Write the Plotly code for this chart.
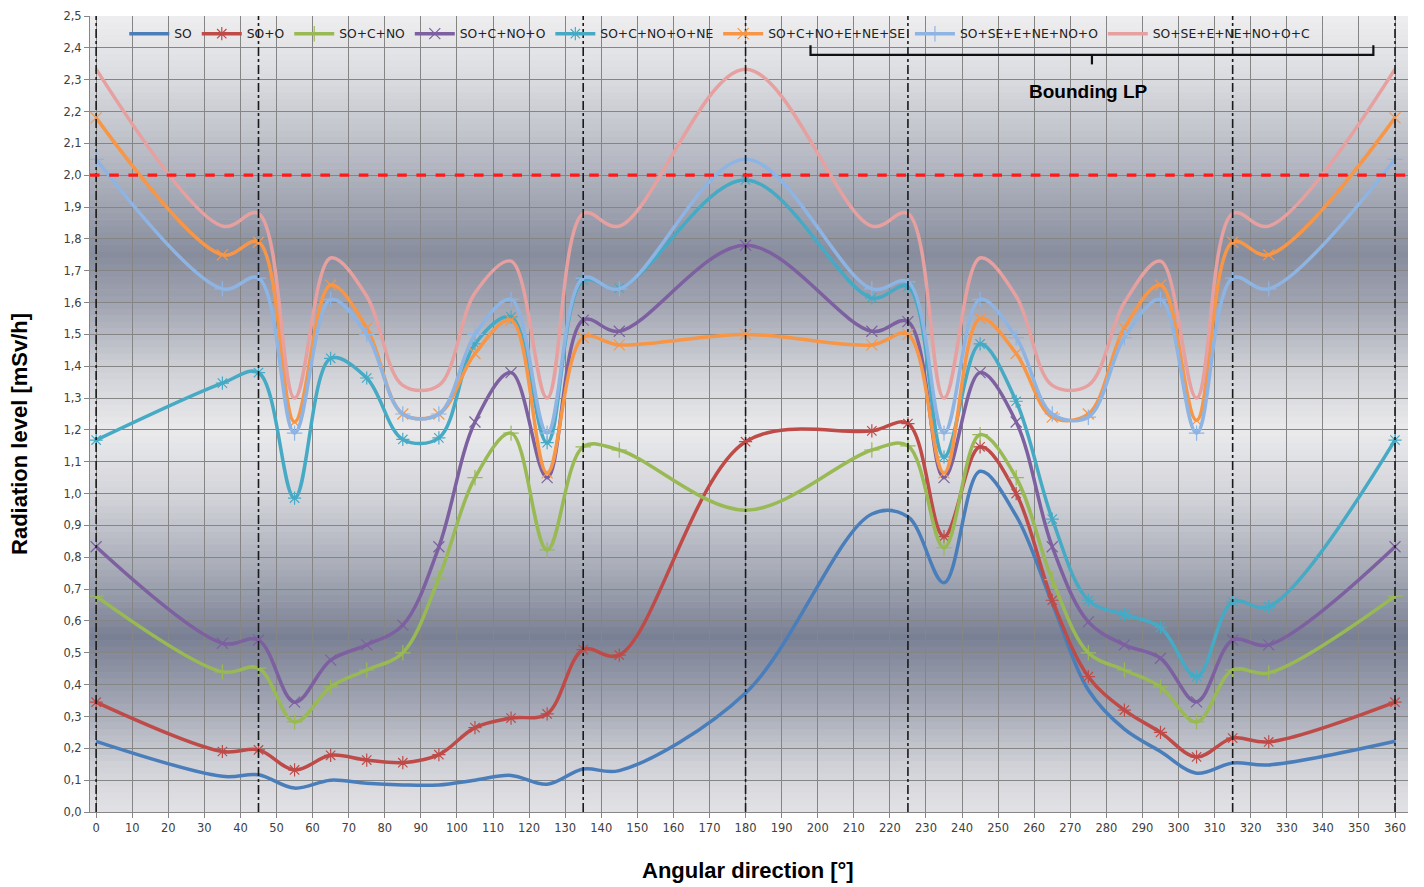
import plotly.graph_objects as go

# ---------------- data ----------------
angles = [0, 35, 45, 55, 65, 75, 85, 95, 105, 115, 125, 135, 145, 180,
          215, 225, 235, 245, 255, 265, 275, 285, 295, 305, 315, 325, 360]

so = [0.222, 0.112, 0.117, 0.075, 0.100, 0.090, 0.085, 0.085, 0.100, 0.115, 0.087, 0.135, 0.130, 0.374,
      0.936, 0.927, 0.720, 1.070, 0.930, 0.655, 0.383, 0.260, 0.190, 0.122, 0.154, 0.148, 0.222]
so_o = [0.345, 0.190, 0.195, 0.132, 0.178, 0.163, 0.155, 0.180, 0.265, 0.295, 0.308, 0.510, 0.493, 1.163,
        1.197, 1.220, 0.865, 1.147, 1.000, 0.665, 0.425, 0.320, 0.250, 0.173, 0.232, 0.220, 0.345]
so_c_no = [0.678, 0.440, 0.452, 0.283, 0.393, 0.446, 0.500, 0.735, 1.050, 1.190, 0.823, 1.147, 1.137, 0.948,
           1.137, 1.150, 0.830, 1.185, 1.050, 0.730, 0.500, 0.446, 0.393, 0.283, 0.446, 0.437, 0.678]
so_c_no_o = [0.833, 0.530, 0.540, 0.345, 0.477, 0.525, 0.587, 0.833, 1.225, 1.380, 1.050, 1.545, 1.510, 1.780,
             1.510, 1.540, 1.050, 1.380, 1.225, 0.833, 0.597, 0.525, 0.483, 0.346, 0.540, 0.525, 0.833]
so_c_no_o_ne = [1.168, 1.347, 1.380, 0.986, 1.425, 1.363, 1.170, 1.175, 1.470, 1.555, 1.160, 1.670, 1.645, 1.985,
                1.615, 1.650, 1.115, 1.470, 1.290, 0.920, 0.665, 0.620, 0.580, 0.425, 0.660, 0.645, 1.168]
so_c_no_e_ne_se = [2.180, 1.750, 1.790, 1.225, 1.655, 1.520, 1.250, 1.250, 1.440, 1.545, 1.065, 1.490, 1.467, 1.500,
                   1.467, 1.500, 1.065, 1.550, 1.440, 1.240, 1.250, 1.520, 1.655, 1.230, 1.790, 1.750, 2.180]
so_se_e_ne_no_o = [2.050, 1.643, 1.677, 1.190, 1.610, 1.500, 1.250, 1.250, 1.500, 1.610, 1.190, 1.677, 1.643, 2.050,
                   1.643, 1.665, 1.190, 1.610, 1.490, 1.250, 1.240, 1.490, 1.610, 1.190, 1.677, 1.643, 2.050]
so_se_e_ne_no_o_c = [2.333, 1.840, 1.880, 1.300, 1.740, 1.620, 1.340, 1.340, 1.630, 1.730, 1.300, 1.880, 1.840, 2.333,
                     1.840, 1.880, 1.300, 1.740, 1.620, 1.340, 1.340, 1.600, 1.730, 1.300, 1.880, 1.840, 2.333]

series_names = ["SO", "SO+O", "SO+C+NO", "SO+C+NO+O", "SO+C+NO+O+NE",
                "SO+C+NO+E+NE+SE", "SO+SE+E+NE+NO+O", "SO+SE+E+NE+NO+O+C"]
series_values = [so, so_o, so_c_no, so_c_no_o, so_c_no_o_ne,
                 so_c_no_e_ne_se, so_se_e_ne_no_o, so_se_e_ne_no_o_c]

limit_value = 2.0
sector_lines = [0, 45, 135, 180, 225, 315, 360]
bracket_range = [198, 354]
bracket_label = "Bounding LP"
x_title = "Angular direction [°]"
y_title = "Radiation level [mSv/h]"

# ---------------- style ----------------
colors = ["#4a7ebb", "#be4b48", "#98b954", "#7d60a0", "#46aac5",
          "#f79646", "#8eb4e3", "#e6a0a0"]
symbols = [None, "asterisk-open", "cross-thin-open", "x-thin-open", "asterisk-open",
           "x-thin-open", "cross-thin-open", None]

fig = go.Figure()

# gradient background (horizontal bands)
grad_stops = [
    (0.00, (226, 226, 230)), (0.15, (208, 209, 215)), (0.35, (160, 164, 178)),
    (0.55, (122, 128, 148)), (0.75, (165, 169, 181)), (1.00, (212, 213, 218)),
    (1.20, (234, 234, 236)), (1.40, (205, 207, 213)), (1.60, (160, 164, 177)),
    (1.75, (136, 141, 158)), (2.00, (175, 178, 189)), (2.30, (218, 219, 223)),
    (2.50, (238, 238, 240)),
]


def interp_color(v):
    for (a, ca), (b, cb) in zip(grad_stops[:-1], grad_stops[1:]):
        if a <= v <= b:
            t = (v - a) / (b - a)
            return "rgb(%d,%d,%d)" % tuple(round(ca[i] + (cb[i] - ca[i]) * t) for i in range(3))
    return "rgb(%d,%d,%d)" % grad_stops[-1][1]


n_strips = 125
shapes = []
for i in range(n_strips):
    y0 = 2.5 * i / n_strips
    y1 = 2.5 * (i + 1) / n_strips
    shapes.append(dict(type="rect", xref="paper", yref="y", x0=0, x1=1, y0=y0, y1=y1 + 0.002,
                       fillcolor=interp_color((y0 + y1) / 2), line=dict(width=0), layer="below"))

# sector boundary lines
for a in sector_lines:
    shapes.append(dict(type="line", xref="x", yref="y", x0=a, x1=a, y0=0, y1=2.5,
                       line=dict(color="#1a1a1a", width=1.6, dash="dashdot"), layer="above"))

# limit line
shapes.append(dict(type="line", xref="paper", yref="y", x0=0, x1=1, y0=limit_value, y1=limit_value,
                   line=dict(color="#ff1a1a", width=3.2, dash="dash"), layer="above"))

# bracket
bx0, bx1 = bracket_range
bxm = (bx0 + bx1) / 2
shapes.append(dict(type="path", xref="x", yref="y",
                   path="M %f,2.408 L %f,2.378 L %f,2.378 L %f,2.408" % (bx0, bx0, bx1, bx1),
                   line=dict(color="#111111", width=2.2), layer="above"))
shapes.append(dict(type="line", xref="x", yref="y", x0=bxm, x1=bxm, y0=2.378, y1=2.348,
                   line=dict(color="#111111", width=2.2), layer="above"))

for name, vals, col, sym in zip(series_names, series_values, colors, symbols):
    mode = "lines+markers" if sym else "lines"
    marker = dict(symbol=sym, size=11, color=col, line=dict(width=1.2, color=col)) if sym else None
    fig.add_trace(go.Scatter(
        x=angles, y=vals, name=name, mode=mode,
        line=dict(color=col, width=3.5, shape="spline", smoothing=1.0),
        marker=marker,
    ))

fig.update_layout(
    width=1424, height=887,
    margin=dict(l=90, r=16, t=16, b=75),
    paper_bgcolor="white",
    plot_bgcolor="#d8d9de",
    separators=", ",
    font=dict(family="DejaVu Sans", size=11, color="#404040"),
    shapes=shapes,
    showlegend=True,
    legend=dict(orientation="h", x=0.026, y=0.996, xanchor="left", yanchor="top",
                bgcolor="rgba(0,0,0,0)", font=dict(family="DejaVu Sans", size=12.3, color="#222222"),
                itemwidth=40, tracegroupgap=0, traceorder="normal"),
    xaxis=dict(range=[-1.7, 363.6], tickmode="linear", tick0=0, dtick=10, automargin=False,
               showgrid=True, gridcolor="#858585", gridwidth=1, zeroline=False,
               showline=True, linecolor="#868686", linewidth=1,
               ticks="outside", ticklen=5, tickcolor="#868686",
               tickfont=dict(family="DejaVu Sans", size=11.5, color="#404040")),
    yaxis=dict(range=[0, 2.5], tickmode="linear", tick0=0, dtick=0.1, tickformat=".1f", automargin=False,
               showgrid=True, gridcolor="#858585", gridwidth=1, zeroline=False,
               showline=True, linecolor="#868686", linewidth=1,
               ticks="outside", ticklen=5, tickcolor="#868686",
               tickfont=dict(family="DejaVu Sans", size=11.5, color="#404040")),
    annotations=[
        dict(text="<b>%s</b>" % x_title, xref="paper", yref="paper", x=0.499, y=-0.0729,
             xanchor="center", yanchor="middle", showarrow=False,
             font=dict(family="Liberation Sans", size=22, color="black")),
        dict(text="<b>%s</b>" % y_title, xref="paper", yref="paper", x=-0.0531, y=0.4749,
             xanchor="center", yanchor="middle", showarrow=False, textangle=-90,
             font=dict(family="Liberation Sans", size=22, color="black")),
        dict(text="<b>%s</b>" % bracket_label, xref="x", yref="y", x=bxm - 1, y=2.262,
             xanchor="center", yanchor="middle", showarrow=False,
             font=dict(family="Liberation Sans", size=19, color="black")),
    ],
)

fig.write_html("out.html", config={"displayModeBar": False},
               post_script="document.body.style.margin='0px';document.body.style.overflow='hidden';")
